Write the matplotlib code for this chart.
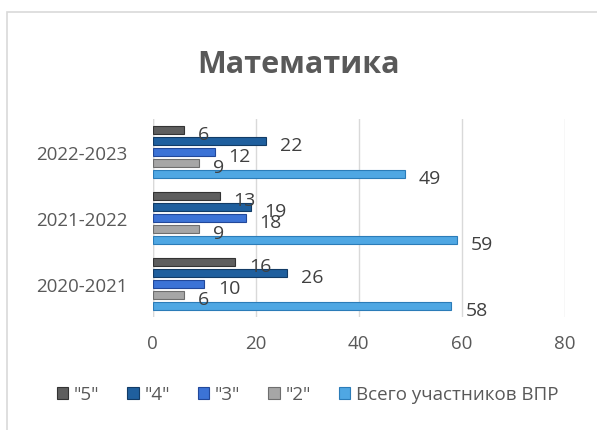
import numpy as np
import matplotlib.pyplot as plt
from matplotlib.patches import Rectangle

plt.rcParams['font.family'] = ['Open Sans', 'DejaVu Sans']

# data
years = ['2020-2021', '2021-2022', '2022-2023']
total = [58, 59, 49]
mark2 = [6, 9, 9]
mark3 = [10, 18, 12]
mark4 = [26, 19, 22]
mark5 = [16, 13, 6]

series = [('Всего участников ВПР', total, '#4FA7E3', '#2B7CB8'),
          ('"2"', mark2, '#A6A6A6', '#6E6E6E'),
          ('"3"', mark3, '#3C73D6', '#22489A'),
          ('"4"', mark4, '#1F5F9E', '#123B66'),
          ('"5"', mark5, '#5E5E5E', '#333333')]

fig = plt.figure(figsize=(5.97, 4.31), dpi=100)
ax = fig.add_axes([0.256, 0.262, 0.69, 0.46])

# chart frame (only left and top edges are in view)
fig.patches.append(Rectangle((7 / 597, -0.1), 1.2, 1 - 13 / 431 + 0.1,
                             transform=fig.transFigure, fill=False,
                             edgecolor='#D9D9D9', linewidth=1.2))

y = np.arange(len(years))
step = 0.167
h = 0.125
bars = []
for i, (name, vals, col, edge) in enumerate(series):
    pos = y + (i - 2) * step
    b = ax.barh(pos, vals, height=h, color=col, edgecolor=edge,
                linewidth=0.8, label=name, zorder=3)
    bars.append(b)
    for p, v in zip(pos, vals):
        ax.annotate(str(v), (v, p), xytext=(10, -3), textcoords='offset points',
                    ha='left', va='center', fontsize=14, color='#404040', zorder=4)

ax.set_xlim(0, 80)
ax.set_ylim(-0.5, 2.5)
ax.set_xticks([0, 20, 40, 60, 80])
ax.set_yticks(y)
ax.set_yticklabels(years)
ax.tick_params(length=0, labelsize=13.5, colors='#595959')
ax.tick_params(axis='x', pad=12)
ax.tick_params(axis='y', pad=18)
ax.grid(axis='x', color='#D9D9D9', linewidth=1, zorder=0)
for s in ax.spines.values():
    s.set_visible(False)
ax.axvline(0, color='#D9D9D9', linewidth=1, zorder=1)

fig.text(0.5, 0.85, 'Математика', ha='center', va='center',
         fontsize=22, fontweight='bold', color='#595959')

handles = bars[::-1]
fig.legend(handles, [s[0] for s in series][::-1], loc='center',
           bbox_to_anchor=(0.515, 0.083), ncol=5, frameon=False,
           fontsize=13.5, handlelength=0.6, handleheight=0.6,
           handletextpad=0.3, columnspacing=1.5, labelcolor='#595959')

fig.savefig('out.png', dpi=100)
